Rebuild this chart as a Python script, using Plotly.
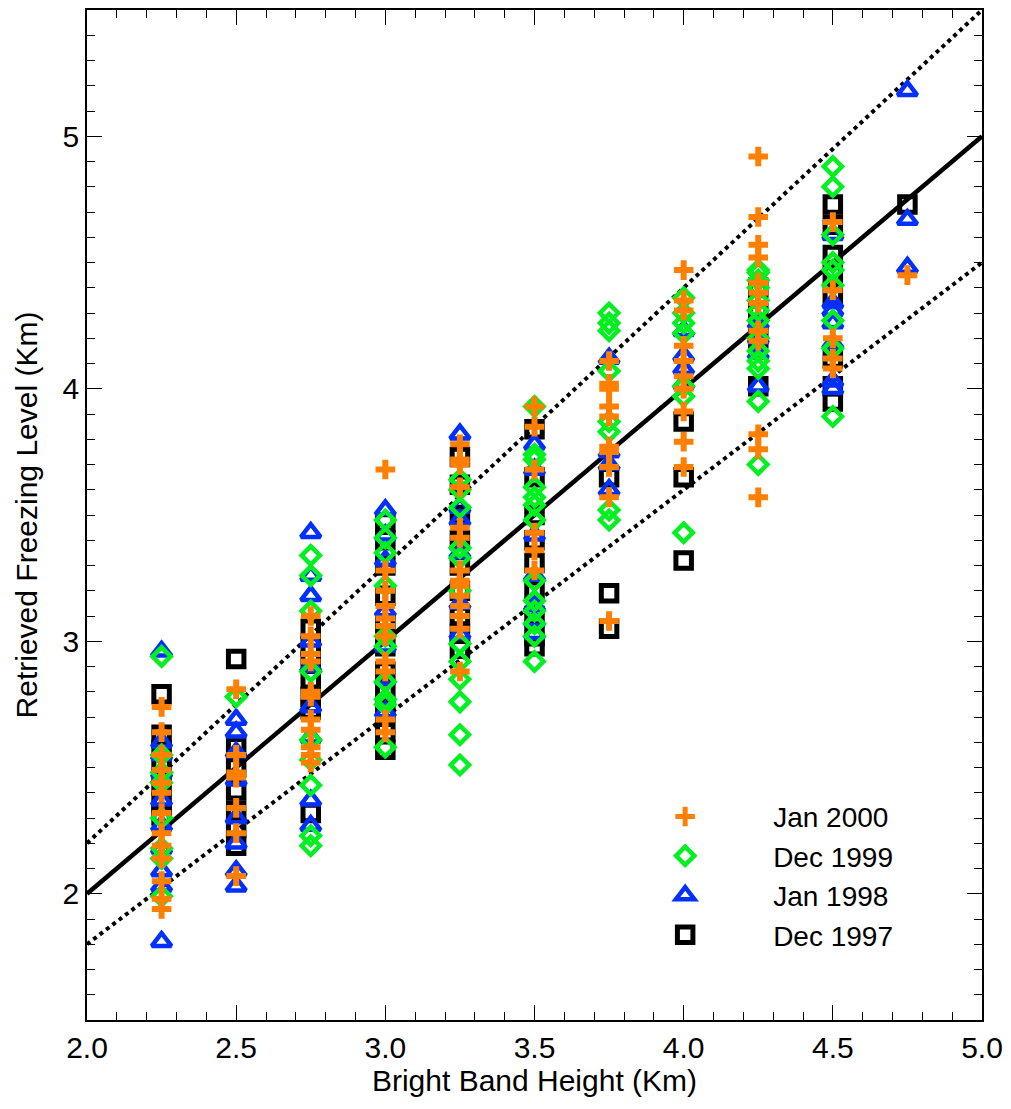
import plotly.graph_objects as go

# Bright band height bins (Km)
columns = [2.25, 2.5, 2.75, 3.0, 3.25, 3.5, 3.75, 4.0, 4.25, 4.5, 4.75]

# Retrieved freezing level (Km) per bin, one list per bin
dec1997 = [
    [2.79, 2.63, 2.57, 2.50, 2.43, 2.36, 2.31],
    [2.93, 2.58, 2.50, 2.41, 2.33, 2.26, 2.19],
    [3.05, 2.98, 2.92, 2.85, 2.78, 2.73, 2.32],
    [3.47, 3.40, 3.30, 3.18, 3.07, 2.98, 2.88, 2.80, 2.72, 2.64, 2.57],
    [3.73, 3.62, 3.50, 3.40, 3.30, 3.20, 3.10, 3.03, 2.97],
    [3.84, 3.65, 3.50, 3.40, 3.31, 3.20, 3.10, 3.02, 2.98],
    [3.65, 3.19, 3.05],
    [3.87, 3.65, 3.32],
    [4.40, 4.30, 4.20, 4.01],
    [4.73, 4.65, 4.53, 4.45, 4.37, 4.12, 4.01, 3.95],
    [4.73],
]
jan1998 = [
    [2.96, 2.60, 2.55, 2.48, 2.37, 2.27, 2.18, 2.09, 2.03, 1.81],
    [2.69, 2.64, 2.56, 2.45, 2.30, 2.20, 2.09, 2.03],
    [3.43, 3.26, 3.18, 3.00, 2.90, 2.74, 2.62, 2.37, 2.27],
    [3.52, 3.42, 3.32, 3.12, 2.98, 2.85, 2.72],
    [3.82, 3.53, 3.48, 3.35, 3.15, 3.03],
    [3.78, 3.68, 3.42, 3.26, 3.14, 3.08, 3.03],
    [4.12, 3.75, 3.70, 3.60],
    [4.23, 4.13, 4.08, 4.02],
    [4.26, 4.20, 4.14, 4.01],
    [4.61, 4.34, 4.31, 4.26, 4.18, 4.03, 4.00],
    [5.18, 4.67, 4.48],
]
dec1999 = [
    [2.94, 2.55, 2.48, 2.44, 2.30, 2.18, 2.14, 1.99],
    [2.78],
    [3.34, 3.26, 3.12, 2.88, 2.61, 2.53, 2.43, 2.23, 2.19],
    [3.48, 3.41, 3.35, 3.22, 3.02, 2.98, 2.84, 2.77, 2.75, 2.58],
    [3.64, 3.60, 3.53, 3.37, 3.33, 3.20, 2.99, 2.92, 2.85, 2.76, 2.63, 2.51],
    [3.93, 3.74, 3.72, 3.61, 3.57, 3.54, 3.48, 3.24, 3.16, 3.12, 3.07, 3.02, 2.92],
    [4.30, 4.26, 4.23, 4.07, 3.87, 3.83, 3.52, 3.48],
    [4.36, 4.30, 4.26, 4.22, 4.01, 3.97, 3.43],
    [4.47, 4.46, 4.43, 4.40, 4.35, 4.31, 4.27, 4.20, 4.15, 4.11, 4.08, 3.95, 3.70],
    [4.88, 4.80, 4.61, 4.50, 4.47, 4.41, 4.27, 4.16, 3.89],
    [],
]
jan2000 = [
    [2.74, 2.64, 2.55, 2.49, 2.44, 2.40, 2.32, 2.24, 2.19, 2.14, 2.05, 1.98, 1.94],
    [2.81, 2.55, 2.48, 2.46, 2.34, 2.24, 2.07],
    [3.10, 3.02, 2.95, 2.92, 2.80, 2.78, 2.69, 2.65, 2.58, 2.55, 2.52],
    [3.68, 3.28, 3.20, 3.14, 3.09, 3.06, 3.02, 2.92, 2.88, 2.69, 2.64],
    [3.78, 3.72, 3.70, 3.61, 3.45, 3.41, 3.28, 3.24, 3.22, 3.18, 3.14, 3.10, 3.05, 2.88],
    [3.93, 3.85, 3.68, 3.43, 3.36, 3.28],
    [4.11, 4.02, 4.00, 3.93, 3.89, 3.77, 3.75, 3.69, 3.57, 3.08],
    [4.47, 4.35, 4.31, 4.17, 4.11, 4.05, 4.00, 3.91, 3.79, 3.69],
    [4.92, 4.68, 4.57, 4.52, 4.42, 4.38, 4.34, 4.23, 4.19, 3.82, 3.76, 3.57],
    [4.66, 4.39, 4.20, 4.12, 4.08],
    [4.45],
]

# Reference lines: 1:1 and +/-10 %
line_x = [2.0, 5.0]
line_factors = [1.0, 1.1, 0.9]

x_ticks = [2.0, 2.5, 3.0, 3.5, 4.0, 4.5, 5.0]
x_ticklabels = ["2.0", "2.5", "3.0", "3.5", "4.0", "4.5", "5.0"]
y_ticks = [2, 3, 4, 5]


def flatten(series):
    xs, ys = [], []
    for xc, vals in zip(columns, series):
        xs += [xc] * len(vals)
        ys += vals
    return xs, ys


FONT = "Liberation Sans"
fig = go.Figure()

for f in line_factors:
    fig.add_trace(go.Scatter(
        x=line_x, y=[v * f for v in line_x], mode="lines", showlegend=False,
        line=dict(color="black", width=4.5 if f == 1.0 else 4,
                  dash="solid" if f == 1.0 else "dot"),
        hoverinfo="skip"))

series = [
    ("Dec 1997", dec1997, "square-open", "black", 15.5, 5),
    ("Jan 1998", jan1998, "triangle-up-open", "#0030ff", 17, 4.5),
    ("Dec 1999", dec1999, "diamond-open", "#00f020", 14, 4.5),
    ("Jan 2000", jan2000, "cross-thin-open", "#ff7f00", 14, 6),
]
for name, data, sym, col, size, lw in series:
    xs, ys = flatten(data)
    fig.add_trace(go.Scatter(
        x=xs, y=ys, mode="markers", name=name,
        marker=dict(symbol=sym, size=size, color=col,
                    line=dict(color=col, width=lw))))

axis_common = dict(
    showgrid=False, zeroline=False, showline=True, linecolor="black",
    linewidth=1.5, mirror="allticks", ticks="inside", ticklen=15,
    tickwidth=1, tickcolor="black",
    tickfont=dict(family=FONT, size=30, color="black"),
)
fig.update_xaxes(
    range=[2.0, 5.0], tickvals=x_ticks, ticktext=x_ticklabels,
    minor=dict(dtick=0.1, ticks="inside", ticklen=8, tickcolor="black"),
    title=dict(text="Bright Band Height (Km)",
               font=dict(family=FONT, size=30, color="black"), standoff=2),
    **axis_common)
fig.update_yaxes(
    range=[1.5, 5.5], tickvals=y_ticks,
    minor=dict(dtick=0.1, ticks="inside", ticklen=8, tickcolor="black"),
    title=dict(text="Retrieved Freezing Level (Km)",
               font=dict(family=FONT, size=30, color="black"), standoff=16),
    **axis_common)

fig.update_layout(
    width=1011, height=1109, plot_bgcolor="white", paper_bgcolor="white",
    margin=dict(l=87, r=26, t=8, b=89),
    legend=dict(x=0.570, y=0.226, xanchor="left", yanchor="top",
                traceorder="reversed", itemwidth=166,
                font=dict(family=FONT, size=28, color="black"),
                bgcolor="rgba(0,0,0,0)"),
)

fig.write_html("out.html")
